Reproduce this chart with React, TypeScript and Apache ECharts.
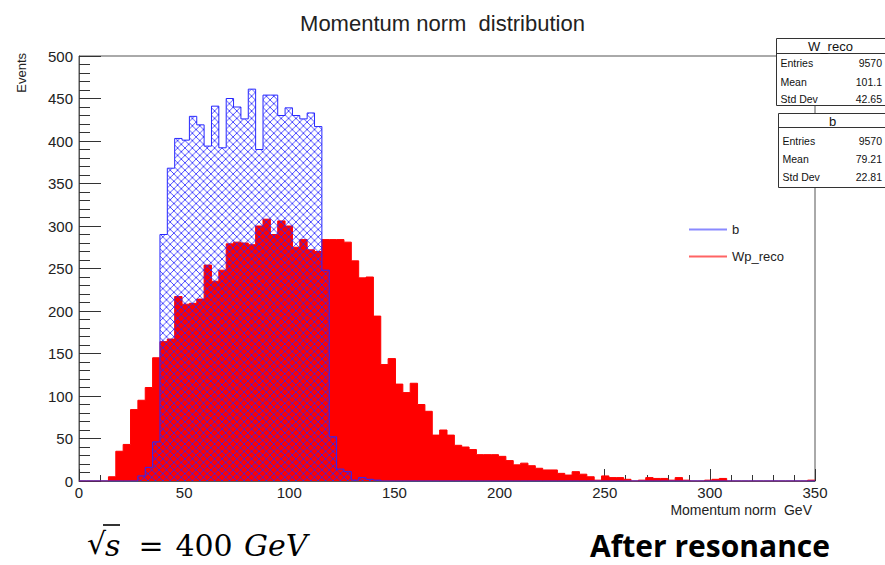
import React, { useEffect, useRef } from "react";
import * as echarts from "echarts";

// ---- data ----
const BIN_WIDTH = 3.5; // GeV, 100 bins over 0..350
const X_MIN = 0;
const X_MAX = 350;
const Y_MAX = 500;

// Wp_reco (red, filled) counts per bin, bins 0..99
const RED_COUNTS_A = [0, 0, 0, 0, 5, 35, 43, 84, 95, 110, 145, 164, 167, 217, 208, 209, 214, 254, 235, 248];
const RED_COUNTS_B = [279, 281, 280, 278, 300, 308, 290, 306, 300, 275, 284, 272, 270, 284, 284, 284, 281, 259, 239, 240];
const RED_COUNTS_C = [194, 137, 144, 114, 104, 115, 90, 82, 54, 60, 54, 42, 40, 37, 31, 31, 31, 29, 24, 19];
const RED_COUNTS_D = [21, 18, 15, 13, 13, 9, 7, 11, 8, 5, 1, 6, 4, 4, 2, 0, 1, 4, 3, 3];
const RED_COUNTS_E = [1, 4, 1, 0, 0, 1, 2, 3, 0, 0, 0, 0, 0, 0, 0, 0, 0, 0, 0, 1];

// b (blue, hatched) counts per bin, bins 0..99
const BLUE_COUNTS_A = [0, 0, 0, 0, 0, 0, 0, 0, 6, 16, 46, 290, 368, 403, 401, 429, 419, 394, 441, 392];
const BLUE_COUNTS_B = [450, 440, 426, 461, 390, 454, 454, 430, 439, 430, 426, 433, 417, 248, 52, 14, 11, 1, 4, 2];
const BLUE_COUNTS_C = [1, 0, 0, 0, 0, 0, 0, 0, 0, 0, 0, 0, 0, 0, 0, 0, 0, 0, 0, 0];
const BLUE_COUNTS_D = [0, 0, 0, 0, 0, 0, 0, 0, 0, 0, 0, 0, 0, 0, 0, 0, 0, 0, 0, 0];
const BLUE_COUNTS_E = [0, 0, 0, 0, 0, 0, 0, 0, 0, 0, 0, 0, 0, 0, 0, 0, 0, 0, 0, 0];

const RED_COUNTS = [...RED_COUNTS_A, ...RED_COUNTS_B, ...RED_COUNTS_C, ...RED_COUNTS_D, ...RED_COUNTS_E];
const BLUE_COUNTS = [...BLUE_COUNTS_A, ...BLUE_COUNTS_B, ...BLUE_COUNTS_C, ...BLUE_COUNTS_D, ...BLUE_COUNTS_E];

const SERIES_NAMES = ["b", "Wp_reco"];
const STAT_LABELS = ["Entries", "Mean", "Std Dev"];
const W_RECO_STATS = ["9570", "101.1", "42.65"];
const B_STATS = ["9570", "79.21", "22.81"];

const TITLE = "Momentum norm  distribution";
const X_NAME = "Momentum norm  GeV";
const Y_NAME = "Events";

const FONT = "'Liberation Sans', Arial, Helvetica, sans-serif";
const SERIF = "'DejaVu Serif', 'Liberation Serif', serif";

function toSteps(counts: number[]): [number, number][] {
  const pts: [number, number][] = counts.map((c, i) => [X_MIN + i * BIN_WIDTH, c] as [number, number]);
  pts.push([X_MIN + counts.length * BIN_WIDTH, counts[counts.length - 1]]);
  return pts;
}

const HATCH = 7.4;
function hatchUrl(): string {
  const s = HATCH;
  const svg =
    `<svg xmlns="http://www.w3.org/2000/svg" width="${s}" height="${s}" viewBox="0 0 ${s} ${s}">` +
    `<g stroke="#2626ff" stroke-width="0.9" stroke-opacity="0.9">` +
    `<line x1="-1" y1="-1" x2="${s + 1}" y2="${s + 1}"/>` +
    `<line x1="${s + 1}" y1="-1" x2="-1" y2="${s + 1}"/>` +
    `</g></svg>`;
  return "data:image/svg+xml;charset=utf-8," + encodeURIComponent(svg);
}

function statsBox(x: number, y: number, title: string, values: string[], rowYs: number[], sepY: number, h: number) {
  const children: any[] = [
    {
      type: "rect",
      shape: { x: x, y: y, width: 130, height: h },
      style: { fill: "#ffffff", stroke: "#333", lineWidth: 1 },
    },
    {
      type: "line",
      shape: { x1: x, y1: sepY, x2: x + 130, y2: sepY },
      style: { stroke: "#333", lineWidth: 1 },
    },
    {
      type: "text",
      x: x + 54,
      y: (y + sepY) / 2 + 0.5,
      style: { text: title, font: `13px ${FONT}`, fill: "#111", align: "center", verticalAlign: "middle" },
    },
  ];
  STAT_LABELS.forEach((lab, i) => {
    children.push({
      type: "text",
      x: x + 4,
      y: rowYs[i],
      style: { text: lab, font: `10.5px ${FONT}`, fill: "#111", align: "left", verticalAlign: "middle" },
    });
    children.push({
      type: "text",
      x: 882,
      y: rowYs[i],
      style: { text: values[i], font: `10.5px ${FONT}`, fill: "#111", align: "right", verticalAlign: "middle" },
    });
  });
  return { type: "group", z: 100, children };
}

export default function App() {
  const ref = useRef<HTMLDivElement>(null);

  useEffect(() => {
    if (!ref.current) return;
    const chart = echarts.init(ref.current, undefined, { renderer: "svg" });

    const option: any = {
      animation: false,
      backgroundColor: "#ffffff",
      title: {
        text: TITLE,
        left: "center",
        top: 7,
        textStyle: { fontSize: 22, fontWeight: "normal", color: "#222", fontFamily: FONT },
      },
      grid: {
        left: 79,
        right: 70,
        top: 56,
        bottom: 84,
        show: true,
        borderColor: "#555",
        borderWidth: 1,
        backgroundColor: "transparent",
      },
      legend: {
        orient: "vertical",
        left: 684,
        top: 218,
        itemWidth: 38,
        itemHeight: 2,
        itemGap: 14,
        icon: "rect",
        selectedMode: false,
        textStyle: { fontSize: 13, color: "#222", fontFamily: FONT },
        data: [
          { name: SERIES_NAMES[0], itemStyle: { color: "#8a8aff" } },
          { name: SERIES_NAMES[1], itemStyle: { color: "#ff6464" } },
        ],
      },
      xAxis: {
        type: "value",
        min: X_MIN,
        max: X_MAX,
        interval: 50,
        axisLine: { show: true, lineStyle: { color: "#555", width: 1 } },
        axisTick: { show: true, inside: true, length: 12, lineStyle: { color: "#333" } },
        minorTick: { show: true, splitNumber: 5, length: 6, lineStyle: { color: "#333" } },
        splitLine: { show: false },
        axisLabel: { fontSize: 15, color: "#222", fontFamily: FONT, margin: 4 },
      },
      yAxis: {
        type: "value",
        min: 0,
        max: Y_MAX,
        interval: 50,
        axisLine: { show: true, lineStyle: { color: "#555", width: 1 } },
        axisTick: { show: true, inside: true, length: 22, lineStyle: { color: "#333" } },
        minorTick: { show: true, splitNumber: 5, length: 11, lineStyle: { color: "#333" } },
        splitLine: { show: false },
        axisLabel: { fontSize: 15, color: "#222", fontFamily: FONT, margin: 6 },
      },
      series: [
        {
          type: "line",
          name: SERIES_NAMES[1],
          step: "end",
          data: toSteps(RED_COUNTS),
          showSymbol: false,
          silent: true,
          color: "#ff0000",
          lineStyle: { color: "#ff0000", width: 1 },
          areaStyle: { color: "#ff0000", opacity: 1 },
          z: 2,
        },
        {
          type: "line",
          name: SERIES_NAMES[0],
          step: "end",
          data: toSteps(BLUE_COUNTS),
          showSymbol: false,
          silent: true,
          color: "#0000ff",
          lineStyle: { color: "#2828ff", width: 1 },
          areaStyle: {
            color: { image: hatchUrl(), imageWidth: HATCH, imageHeight: HATCH, repeat: "repeat" },
            opacity: 1,
          },
          z: 3,
        },
      ],
      graphic: [
        statsBox(776.5, 38.5, "W_reco", W_RECO_STATS, [63, 81.5, 99], 53.5, 67),
        statsBox(778.5, 113.5, "b", B_STATS, [141, 159, 177], 127.5, 74),
        {
          type: "text",
          x: 21,
          y: 53,
          rotation: Math.PI / 2,
          style: { text: Y_NAME, font: `13px ${FONT}`, fill: "#222", align: "right", verticalAlign: "middle" },
        },
        {
          type: "text",
          x: 812,
          y: 510,
          style: { text: X_NAME, font: `14px ${FONT}`, fill: "#222", align: "right", verticalAlign: "middle" },
        },
        // sqrt(s) = 400 GeV
        {
          type: "text",
          x: 87,
          y: 543,
          style: { text: "√", font: `30px ${SERIF}`, fill: "#000", align: "left", verticalAlign: "middle" },
        },
        {
          type: "line",
          shape: { x1: 103, y1: 525, x2: 120, y2: 525 },
          style: { stroke: "#000", lineWidth: 1.6 },
        },
        {
          type: "text",
          x: 105,
          y: 545,
          style: { text: "s", font: `italic 30px ${SERIF}`, fill: "#000", align: "left", verticalAlign: "middle" },
        },
        {
          type: "text",
          x: 151,
          y: 545,
          style: { text: "=", font: `30px ${SERIF}`, fill: "#000", align: "center", verticalAlign: "middle" },
        },
        {
          type: "text",
          x: 204,
          y: 545,
          style: { text: "400", font: `30px ${SERIF}`, fill: "#000", align: "center", verticalAlign: "middle" },
        },
        {
          type: "text",
          x: 244,
          y: 545,
          style: { text: "GeV", font: `italic 30px ${SERIF}`, fill: "#000", align: "left", verticalAlign: "middle" },
        },
        {
          type: "text",
          x: 830,
          y: 545,
          style: {
            text: "After resonance",
            font: `bold 30px 'Open Sans', 'Noto Sans', sans-serif`,
            fill: "#000",
            align: "right",
            verticalAlign: "middle",
          },
        },
      ],
    };

    chart.setOption(option);
    return () => {
      chart.dispose();
    };
  }, []);

  return (
    <div
      ref={ref}
      style={{ position: "absolute", left: 0, top: 0, width: 885, height: 565, background: "#fff" }}
    />
  );
}
